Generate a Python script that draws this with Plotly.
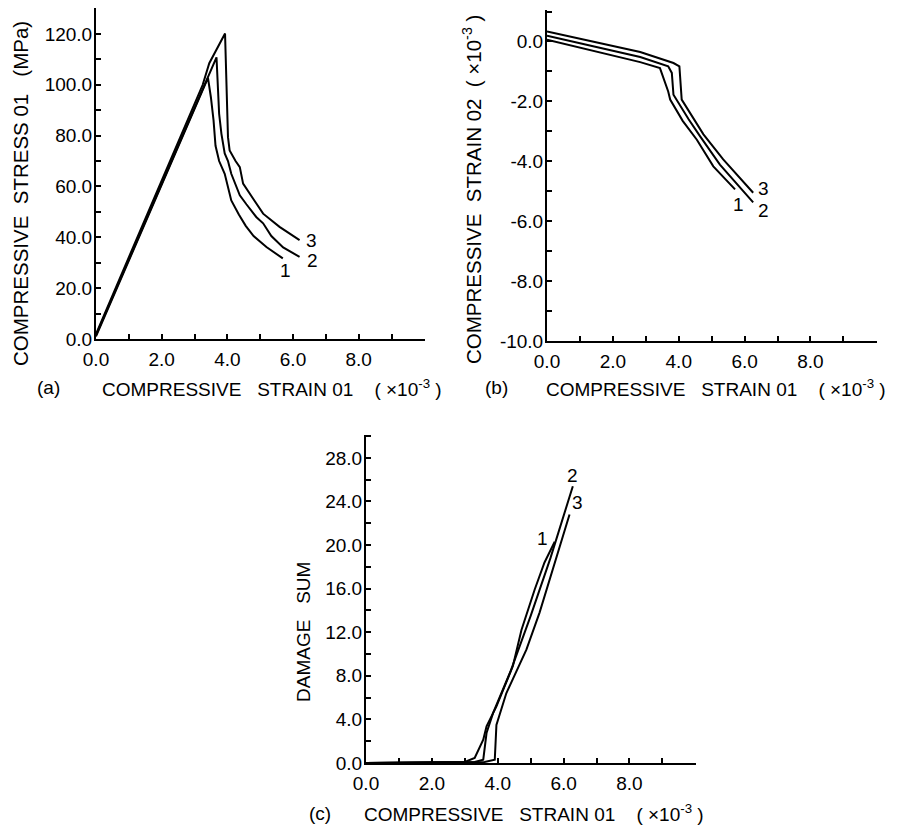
import plotly.graph_objects as go

W, H = 899, 827

# ---- panel (a): stress vs strain ----
a_strain_1 = [0.0, 3.41, 3.50, 3.58, 3.64, 3.75, 3.92, 4.02, 4.12, 4.35, 4.56, 4.80, 5.19, 5.69]
a_stress_1 = [1.0, 102.7, 95.0, 86.0, 76.0, 70.0, 65.0, 60.0, 54.5, 49.0, 44.5, 40.5, 36.2, 31.7]
a_strain_2 = [0.0, 3.67, 3.75, 3.82, 3.92, 4.02, 4.12, 4.38, 4.58, 4.88, 5.09, 5.34, 5.70, 6.20]
a_stress_2 = [1.5, 110.8, 88.6, 80.7, 73.0, 70.0, 65.0, 56.5, 53.0, 48.0, 45.5, 40.5, 36.0, 32.3]
a_strain_3 = [0.0, 3.25, 3.45, 3.70, 3.93, 4.02, 4.07, 4.25, 4.38, 4.48, 4.70, 5.09, 5.59, 6.20]
a_stress_3 = [2.0, 100.0, 108.5, 114.5, 120.2, 79.4, 74.2, 70.0, 67.6, 61.1, 57.0, 49.3, 44.1, 38.9]

# ---- panel (b): lateral strain vs strain ----
b_strain_1 = [0.0, 2.83, 3.43, 3.58, 3.68, 3.74, 4.12, 4.55, 5.05, 5.71]
b_lat_1 = [0.06, -0.69, -0.89, -1.33, -1.67, -1.94, -2.65, -3.28, -4.17, -4.94]
b_strain_2 = [0.0, 2.83, 3.68, 3.79, 3.84, 4.30, 4.65, 5.25, 6.26]
b_lat_2 = [0.19, -0.52, -0.83, -1.05, -1.78, -2.60, -3.17, -4.11, -5.37]
b_strain_3 = [0.0, 2.83, 3.84, 4.02, 4.09, 4.40, 4.75, 5.35, 6.26]
b_lat_3 = [0.33, -0.35, -0.72, -0.83, -1.94, -2.50, -3.10, -3.94, -5.05]

# ---- panel (c): damage sum vs strain ----
c_strain_1 = [0.0, 3.0, 3.30, 3.56, 3.66, 3.96, 4.46, 4.72, 5.12, 5.42, 5.73]
c_damage_1 = [0.0, 0.1, 0.46, 2.14, 3.36, 5.2, 8.9, 12.2, 15.9, 18.4, 20.3]
c_strain_2 = [0.0, 3.30, 3.56, 3.66, 3.86, 4.40, 5.00, 5.60, 6.28]
c_damage_2 = [0.0, 0.1, 0.3, 2.75, 4.6, 8.5, 13.5, 18.8, 25.4]
c_strain_3 = [0.0, 3.60, 3.91, 3.96, 4.26, 4.87, 5.27, 6.18]
c_damage_3 = [0.0, 0.1, 0.3, 3.5, 6.4, 10.4, 13.8, 22.8]

# tick labels
x_ticks = [0, 2, 4, 6, 8]
x_ticktext = ["0.0", "2.0", "4.0", "6.0", "8.0"]
ya_ticks = [0, 20, 40, 60, 80, 100, 120]
ya_ticktext = ["0.0", "20.0", "40.0", "60.0", "80.0", "100.0", "120.0"]
yb_ticks = [0, -2, -4, -6, -8, -10]
yb_ticktext = ["0.0", "-2.0", "-4.0", "-6.0", "-8.0", "-10.0"]
yc_ticks = [0, 4, 8, 12, 16, 20, 24, 28]
yc_ticktext = ["0.0", "4.0", "8.0", "12.0", "16.0", "20.0", "24.0", "28.0"]

FONT = "Liberation Sans"
line = dict(color="black", width=2)

fig = go.Figure()
for xs, ys in [(a_strain_1, a_stress_1), (a_strain_2, a_stress_2), (a_strain_3, a_stress_3)]:
    fig.add_trace(go.Scatter(x=xs, y=ys, mode="lines", line=line, xaxis="x", yaxis="y"))
for xs, ys in [(b_strain_1, b_lat_1), (b_strain_2, b_lat_2), (b_strain_3, b_lat_3)]:
    fig.add_trace(go.Scatter(x=xs, y=ys, mode="lines", line=line, xaxis="x2", yaxis="y2"))
for xs, ys in [(c_strain_1, c_damage_1), (c_strain_2, c_damage_2), (c_strain_3, c_damage_3)]:
    fig.add_trace(go.Scatter(x=xs, y=ys, mode="lines", line=line, xaxis="x3", yaxis="y3"))

OFF = 8  # the page body margin shifts the figure by 8 px


def px_x(p):
    return (p - OFF) / W


def px_y(p):
    return 1 - (p - OFF) / H


def axis(domain, rng, tv, tt, anchor, dtick, standoff):
    return dict(domain=domain, range=rng, tickvals=tv, ticktext=tt, anchor=anchor,
                showline=True, linecolor="black", linewidth=2,
                ticks="inside", ticklen=5, tickwidth=2, tickcolor="black",
                minor=dict(dtick=dtick, tick0=0, ticks="inside", ticklen=5,
                           tickwidth=2, tickcolor="black"),
                showgrid=False, zeroline=False, ticklabelstandoff=standoff,
                tickfont=dict(family=FONT, size=19, color="black"))


fig.update_layout(
    width=W, height=H,
    margin=dict(l=0, r=0, t=0, b=0, autoexpand=False),
    paper_bgcolor="white", plot_bgcolor="white",
    showlegend=False,
    xaxis=axis([px_x(96), px_x(425)], [0, 10.02], x_ticks, x_ticktext, "y", 1, 2),
    yaxis=axis([px_y(339), px_y(8)], [0, 130.2], ya_ticks, ya_ticktext, "x", 10, -2),
    xaxis2=axis([px_x(547), px_x(877)], [0, 10.02], x_ticks, x_ticktext, "y2", 1, 2),
    yaxis2=axis([px_y(341), px_y(10)], [-10, 1.05], yb_ticks, yb_ticktext, "x2", 1, -2),
    xaxis3=axis([px_x(366), px_x(696)], [0, 10.02], x_ticks, x_ticktext, "y3", 1, 2),
    yaxis3=axis([px_y(763), px_y(435)], [0, 30.1], yc_ticks, yc_ticktext, "x3", 2, -2),
)

ann = []


def text(x, y, s, size=19, angle=0, xanchor="center"):
    ann.append(dict(x=px_x(x), y=px_y(y), xref="paper", yref="paper", text=s,
                    showarrow=False, textangle=angle, xanchor=xanchor, yanchor="middle",
                    font=dict(family=FONT, size=size, color="black")))


NB = "\u00a0"
unit = f"({NB}×10<sup>-3</sup>{NB})"
xlabel = f"COMPRESSIVE{NB*3}STRAIN{NB}01{NB*4}{unit}"

text(35, 388, "(a)", xanchor="left")
text(100, 388, xlabel, xanchor="left")
text(483, 388, "(b)", xanchor="left")
text(544, 388, xlabel, xanchor="left")
text(307, 813, "(c)", xanchor="left")
text(362, 813, xlabel, xanchor="left")

text(20, 194, f"COMPRESSIVE{NB*2}STRESS{NB}01{NB*3}(MPa)", size=20.5, angle=-90)
text(472, 190, f"COMPRESSIVE{NB*2}STRAIN{NB}02{NB*2}{unit}", size=20.5, angle=-90)
text(303, 632, f"DAMAGE{NB*3}SUM", angle=-90)

# curve numbers (in data coordinates)
for xr, yr, pts in [("x", "y", [(5.78, 27.1, "1"), (6.6, 31.0, "2"), (6.56, 38.9, "3")]),
                    ("x2", "y2", [(5.81, -5.45, "1"), (6.57, -5.65, "2"), (6.57, -4.9, "3")]),
                    ("x3", "y3", [(5.37, 20.6, "1"), (6.27, 26.4, "2"), (6.42, 23.9, "3")])]:
    for x, y, s in pts:
        ann.append(dict(x=x, y=y, xref=xr, yref=yr, text=s, showarrow=False,
                        font=dict(family=FONT, size=19, color="black")))

fig.update_layout(annotations=ann)
fig.write_html("out.html")
